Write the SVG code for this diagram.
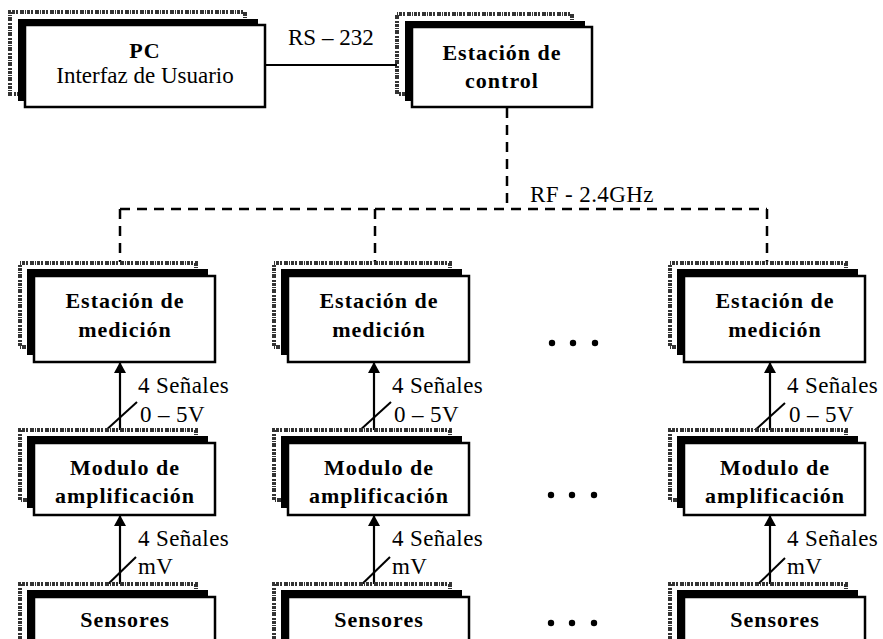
<svg xmlns="http://www.w3.org/2000/svg" width="883" height="639" viewBox="0 0 883 639">
<style>
.bg{fill:#fff}
.back{fill:#fff;stroke:#333;stroke-width:4;stroke-dasharray:1 1 3 1 2 2 4 1}
.mid{fill:#000}
.box{fill:#fff;stroke:#000;stroke-width:2.5}
.bt{font-family:"Liberation Serif","Times New Roman",serif;font-weight:bold;font-size:22px;letter-spacing:1px;text-anchor:middle;fill:#000}
.nt{font-family:"Liberation Serif","Times New Roman",serif;font-size:23px;fill:#000}
.lb{font-family:"Liberation Serif","Times New Roman",serif;font-size:23px;letter-spacing:0.4px;fill:#000}
.dash{fill:none;stroke:#000;stroke-width:2.5;stroke-dasharray:10 7}
.line{fill:none;stroke:#000;stroke-width:2}
.arr{fill:none;stroke:#000;stroke-width:2.2;marker-end:url(#ah)}
.dot{fill:#000}
</style>
<defs>
<marker id="ah" markerWidth="12" markerHeight="12" refX="10" refY="6" orient="auto" markerUnits="userSpaceOnUse">
<path d="M0,0 L11,6 L0,12 Z" fill="#000"/>
</marker>
</defs>
<rect class="bg" x="0" y="0" width="883" height="639"/>

<g id="connectors">
<line class="line" x1="265" y1="65" x2="397" y2="65"/>
<text class="nt" x="288" y="45">RS – 232</text>
<line class="dash" x1="507" y1="108" x2="507" y2="209"/>
<line class="dash" x1="120" y1="209" x2="767" y2="209"/>
<line class="dash" x1="120" y1="209" x2="120" y2="262"/>
<line class="dash" x1="375" y1="209" x2="375" y2="262"/>
<line class="dash" x1="767" y1="209" x2="767" y2="262"/>
<text class="lb" x="530" y="202">RF - 2.4GHz</text>

<line class="arr" x1="120" y1="430" x2="120" y2="363"/>
<line class="line" x1="104" y1="432" x2="137" y2="402"/>
<text class="lb" x="138" y="393">4 Señales</text>
<text class="lb" x="140" y="422">0 – 5V</text>
<line class="arr" x1="120" y1="584" x2="120" y2="516"/>
<line class="line" x1="103" y1="589" x2="136" y2="557"/>
<text class="lb" x="138" y="546">4 Señales</text>
<text class="lb" x="138" y="574">mV</text>

<line class="arr" x1="374" y1="430" x2="374" y2="363"/>
<line class="line" x1="358" y1="432" x2="391" y2="402"/>
<text class="lb" x="392" y="393">4 Señales</text>
<text class="lb" x="394" y="422">0 – 5V</text>
<line class="arr" x1="374" y1="584" x2="374" y2="516"/>
<line class="line" x1="357" y1="589" x2="390" y2="557"/>
<text class="lb" x="392" y="546">4 Señales</text>
<text class="lb" x="392" y="574">mV</text>

<line class="arr" x1="770" y1="430" x2="770" y2="363"/>
<line class="line" x1="753" y1="432" x2="785" y2="403"/>
<text class="lb" x="787" y="393">4 Señales</text>
<text class="lb" x="789" y="422">0 – 5V</text>
<line class="arr" x1="770" y1="584" x2="770" y2="516"/>
<line class="line" x1="753" y1="589" x2="785" y2="558"/>
<text class="lb" x="787" y="546">4 Señales</text>
<text class="lb" x="787" y="574">mV</text>
</g>

<g id="pc">
<rect class="back" x="10" y="12" width="235" height="82"/>
<rect class="mid" x="18" y="19" width="240" height="82"/>
<rect class="box" x="25" y="25" width="240" height="82"/>
<text class="bt" x="145" y="58">PC</text>
<text class="nt" x="145" y="83" text-anchor="middle">Interfaz de Usuario</text>
</g>

<g id="control">
<rect class="back" x="397" y="14" width="175" height="80"/>
<rect class="mid" x="405" y="21" width="180" height="80"/>
<rect class="box" x="412" y="27" width="180" height="80"/>
<text class="bt" x="502" y="60">Estación de</text>
<text class="bt" x="502" y="88">control</text>
</g>

<g id="medicion1">
<rect class="back" x="20" y="263" width="176" height="84"/>
<rect class="mid" x="27" y="269" width="181" height="86"/>
<rect class="box" x="34" y="276" width="181" height="86"/>
<text class="bt" x="125" y="308">Estación de</text>
<text class="bt" x="125" y="337">medición</text>
</g>
<g id="medicion2">
<rect class="back" x="274" y="263" width="176" height="84"/>
<rect class="mid" x="281" y="269" width="181" height="86"/>
<rect class="box" x="288" y="276" width="181" height="86"/>
<text class="bt" x="379" y="308">Estación de</text>
<text class="bt" x="379" y="337">medición</text>
</g>
<g id="medicion3">
<rect class="back" x="670" y="263" width="176" height="84"/>
<rect class="mid" x="677" y="269" width="181" height="86"/>
<rect class="box" x="684" y="276" width="181" height="86"/>
<text class="bt" x="775" y="308">Estación de</text>
<text class="bt" x="775" y="337">medición</text>
</g>

<g id="modulo1">
<rect class="back" x="20" y="430" width="176" height="70"/>
<rect class="mid" x="27" y="436" width="181" height="72"/>
<rect class="box" x="34" y="443" width="181" height="72"/>
<text class="bt" x="125" y="475">Modulo de</text>
<text class="bt" x="125" y="503">amplificación</text>
</g>
<g id="modulo2">
<rect class="back" x="274" y="430" width="176" height="70"/>
<rect class="mid" x="281" y="436" width="181" height="72"/>
<rect class="box" x="288" y="443" width="181" height="72"/>
<text class="bt" x="379" y="475">Modulo de</text>
<text class="bt" x="379" y="503">amplificación</text>
</g>
<g id="modulo3">
<rect class="back" x="670" y="430" width="176" height="70"/>
<rect class="mid" x="677" y="436" width="181" height="72"/>
<rect class="box" x="684" y="443" width="181" height="72"/>
<text class="bt" x="775" y="475">Modulo de</text>
<text class="bt" x="775" y="503">amplificación</text>
</g>

<g id="sensores1">
<rect class="back" x="20" y="584" width="176" height="70"/>
<rect class="mid" x="27" y="590" width="181" height="72"/>
<rect class="box" x="34" y="597" width="181" height="72"/>
<text class="bt" x="125" y="627">Sensores</text>
</g>
<g id="sensores2">
<rect class="back" x="274" y="584" width="176" height="70"/>
<rect class="mid" x="281" y="590" width="181" height="72"/>
<rect class="box" x="288" y="597" width="181" height="72"/>
<text class="bt" x="379" y="627">Sensores</text>
</g>
<g id="sensores3">
<rect class="back" x="670" y="584" width="176" height="70"/>
<rect class="mid" x="677" y="590" width="181" height="72"/>
<rect class="box" x="684" y="597" width="181" height="72"/>
<text class="bt" x="775" y="627">Sensores</text>
</g>

<g id="ellipsis">
<circle class="dot" cx="552" cy="343" r="3.2"/>
<circle class="dot" cx="573" cy="343" r="3.2"/>
<circle class="dot" cx="595" cy="343" r="3.2"/>
<circle class="dot" cx="551" cy="495" r="3.2"/>
<circle class="dot" cx="572" cy="495" r="3.2"/>
<circle class="dot" cx="594" cy="495" r="3.2"/>
<circle class="dot" cx="551" cy="623" r="3.2"/>
<circle class="dot" cx="572" cy="623" r="3.2"/>
<circle class="dot" cx="594" cy="623" r="3.2"/>
</g>
</svg>
